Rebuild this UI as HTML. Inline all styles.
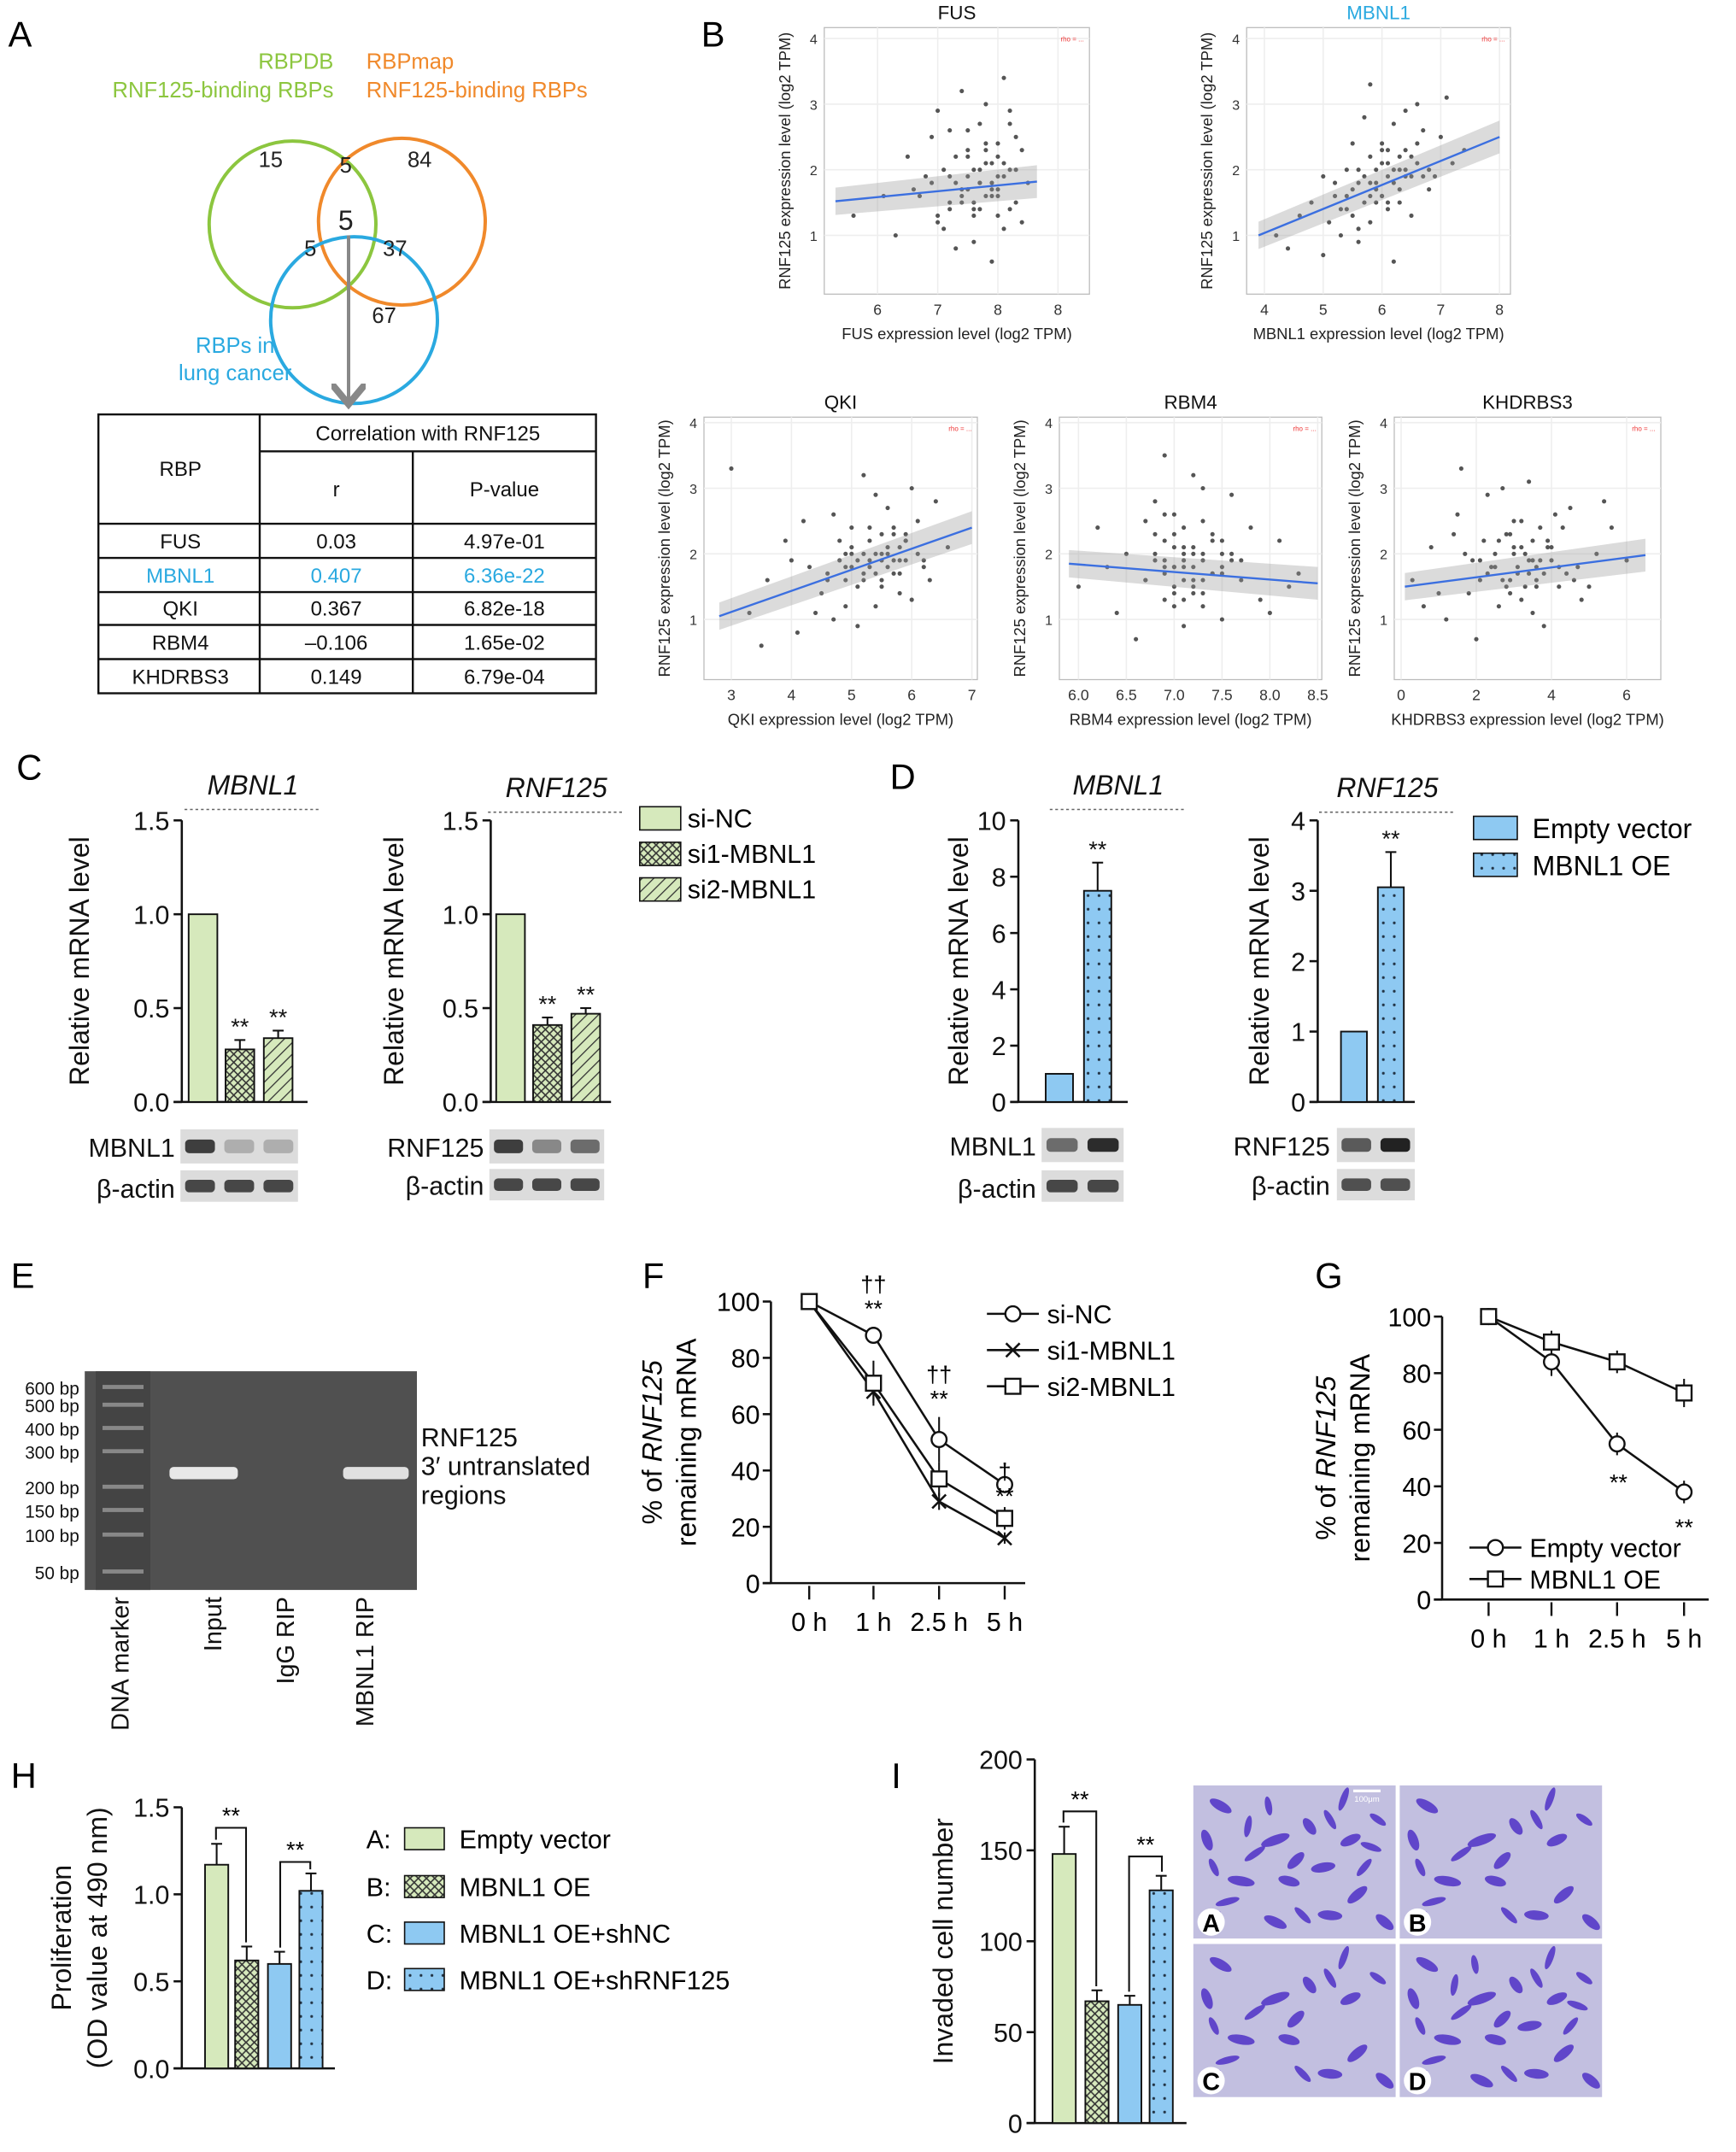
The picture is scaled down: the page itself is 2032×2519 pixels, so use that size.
<!DOCTYPE html>
<html><head><meta charset="utf-8">
<style>
html,body{margin:0;padding:0;background:#fff;}
svg{display:block;font-family:"Liberation Sans",Arial,sans-serif;}
</style></head>
<body>
<svg id="fig" width="2032" height="2519" viewBox="0 0 1270 1574" xmlns="http://www.w3.org/2000/svg">
<defs>
<pattern id="hatch" patternUnits="userSpaceOnUse" width="6" height="6" patternTransform="rotate(45)">
<rect width="6" height="6" fill="#d6e9bc"/><line x1="0" y1="0" x2="0" y2="6" stroke="#333" stroke-width="1.6"/></pattern>
<pattern id="cross" patternUnits="userSpaceOnUse" width="6" height="6">
<rect width="6" height="6" fill="#d6e9bc"/><path d="M0 0L6 6M6 0L0 6" stroke="#333" stroke-width="1"/></pattern>
<pattern id="dots" patternUnits="userSpaceOnUse" width="8" height="10">
<rect width="8" height="10" fill="#8ec9f2"/><circle cx="4" cy="5" r="1" fill="#234"/></pattern>
<marker id="arr" markerWidth="10" markerHeight="10" refX="5" refY="5" orient="auto"><path d="M0 0L6 5L0 10" fill="none" stroke="#888" stroke-width="2"/></marker>
</defs>

<g font-size="26" fill="#000">
<text x="6" y="34">A</text><text x="513" y="34">B</text><text x="12" y="570">C</text>
<text x="651" y="577">D</text><text x="8" y="942">E</text><text x="470" y="942">F</text>
<text x="962" y="942">G</text><text x="8" y="1308">H</text><text x="652" y="1308">I</text>
</g>

<g>
<circle cx="214" cy="164" r="61" fill="none" stroke="#8cc63f" stroke-width="2.5"/>
<circle cx="294" cy="162" r="61" fill="none" stroke="#f0892b" stroke-width="2.5"/>
<circle cx="259" cy="234" r="61" fill="none" stroke="#2aa9e0" stroke-width="2.5"/>
<g font-size="16" text-anchor="middle" fill="#222">
<text x="198" y="122">15</text><text x="253" y="126">5</text><text x="307" y="122">84</text>
<text x="253" y="168" font-size="20">5</text><text x="227" y="187">5</text><text x="289" y="187">37</text><text x="281" y="236">67</text>
</g>
<g font-size="16" fill="#8cc63f" text-anchor="end"><text x="244" y="50">RBPDB</text><text x="244" y="71">RNF125-binding RBPs</text></g>
<g font-size="16" fill="#f0892b"><text x="268" y="50">RBPmap</text><text x="268" y="71">RNF125-binding RBPs</text></g>
<g font-size="16" fill="#2aa9e0" text-anchor="middle"><text x="172" y="258">RBPs in</text><text x="172" y="278">lung cancer</text></g>
<line x1="255" y1="172" x2="255" y2="293" stroke="#888" stroke-width="2.5" marker-end="url(#arr)"/>
</g>

<g font-size="15" text-anchor="middle" fill="#111">
<rect x="72" y="303" width="364" height="204" fill="none" stroke="#111" stroke-width="1.5"/>
<line x1="190" y1="303" x2="190" y2="507" stroke="#111" stroke-width="1.5"/>
<line x1="302" y1="330" x2="302" y2="507" stroke="#111" stroke-width="1.5"/>
<line x1="190" y1="330" x2="436" y2="330" stroke="#111" stroke-width="1.5"/>
<line x1="72" y1="383" x2="436" y2="383" stroke="#111" stroke-width="1.5"/>
<line x1="72" y1="408" x2="436" y2="408" stroke="#111" stroke-width="1.5"/>
<line x1="72" y1="433" x2="436" y2="433" stroke="#111" stroke-width="1.5"/>
<line x1="72" y1="457" x2="436" y2="457" stroke="#111" stroke-width="1.5"/>
<line x1="72" y1="482" x2="436" y2="482" stroke="#111" stroke-width="1.5"/>
<text x="313" y="322">Correlation with RNF125</text>
<text x="132" y="348">RBP</text><text x="246" y="363">r</text><text x="369" y="363">P-value</text>
<text x="132" y="401">FUS</text><text x="246" y="401">0.03</text><text x="369" y="401">4.97e-01</text>
<g fill="#2aa9e0"><text x="132" y="426">MBNL1</text><text x="246" y="426">0.407</text><text x="369" y="426">6.36e-22</text></g>
<text x="132" y="450">QKI</text><text x="246" y="450">0.367</text><text x="369" y="450">6.82e-18</text>
<text x="132" y="475">RBM4</text><text x="246" y="475">–0.106</text><text x="369" y="475">1.65e-02</text>
<text x="132" y="500">KHDRBS3</text><text x="246" y="500">0.149</text><text x="369" y="500">6.79e-04</text>
</g>

<g id="dyn"></g>

<g>
<rect x="62" y="1003" width="243" height="160" fill="#505050"/>
<rect x="70" y="1003" width="40" height="160" fill="#444"/>
<g fill="#888"><rect x="75" y="1013" width="30" height="3"/><rect x="75" y="1026" width="30" height="3"/><rect x="75" y="1043" width="30" height="3"/><rect x="75" y="1060" width="30" height="3"/><rect x="75" y="1086" width="30" height="3"/><rect x="75" y="1103" width="30" height="3"/><rect x="75" y="1121" width="30" height="3"/><rect x="75" y="1148" width="30" height="3"/></g>
<rect x="124" y="1073" width="50" height="9" rx="3" fill="#e8e8e8"/>
<rect x="251" y="1073" width="48" height="9" rx="3" fill="#e0e0e0"/>
<g font-size="13" text-anchor="end" fill="#111">
<text x="58" y="1020">600 bp</text><text x="58" y="1033">500 bp</text><text x="58" y="1050">400 bp</text><text x="58" y="1067">300 bp</text><text x="58" y="1093">200 bp</text><text x="58" y="1110">150 bp</text><text x="58" y="1128">100 bp</text><text x="58" y="1155">50 bp</text>
</g>
<g font-size="18" text-anchor="end" fill="#111">
<text transform="translate(94,1168) rotate(-90)">DNA marker</text>
<text transform="translate(162,1168) rotate(-90)">Input</text>
<text transform="translate(215,1168) rotate(-90)">IgG RIP</text>
<text transform="translate(273,1168) rotate(-90)">MBNL1 RIP</text>
</g>
<g font-size="19" fill="#111"><text x="308" y="1058">RNF125</text><text x="308" y="1079">3′ untranslated</text><text x="308" y="1100">regions</text></g>
</g>

<g id="micro"></g>
</svg>

<script>
// ===== Data =====
const fusX=[6.1,6.5,7.0,7.2,7.5,7.8,8.0,8.2,7.6,7.9,8.1,8.4,6.8,7.3,7.7,8.3,5.6,6.3,7.1,7.4,7.8,8.0,8.2,8.5,6.9,7.5,7.9,8.1,7.2,7.7,8.3,6.6,7.0,7.6,8.0,8.4,7.4,7.9,8.2,7.1,
 7.3,7.6,7.8,8.0,7.5,7.7,7.9,8.1,7.4,7.6,7.8,8.0,7.2,7.5,7.7,8.2,6.9,7.3,7.6,7.9,8.1,7.0,7.4,7.8,8.3,6.7,7.2,7.7,8.0,7.5];
const fusY=[1.6,2.2,1.2,2.6,1.9,2.4,1.7,2.9,1.4,2.1,1.1,2.3,1.9,0.8,2.7,1.5,1.3,1.0,2.0,1.6,3.0,1.3,2.0,1.8,2.5,2.3,0.6,3.4,1.5,1.8,2.5,1.7,2.9,0.9,2.2,1.2,3.2,1.6,2.7,1.1,
 1.8,2.0,1.6,1.9,2.2,1.4,1.7,2.1,1.5,1.3,2.3,1.6,1.9,1.7,2.0,1.4,1.8,2.2,1.5,1.8,1.9,1.3,1.7,2.1,2.0,1.6,1.4,1.8,2.4,2.6];
const mbnX=[4.2,4.6,5.0,5.2,5.4,5.6,5.8,6.0,6.1,6.2,6.4,6.5,6.6,6.8,7.0,7.2,5.1,5.5,5.9,6.3,6.7,4.8,5.3,5.7,6.0,6.4,6.9,7.4,5.6,6.1,6.5,5.0,5.8,6.2,6.6,7.1,4.4,5.4,6.3,6.8,
 5.5,5.7,5.9,6.1,6.3,5.6,5.8,6.0,6.2,6.4,5.3,5.9,6.1,6.5,5.7,6.0,6.3,5.4,5.8,6.2,6.6,5.9,6.0,5.5,6.4,6.1,5.6,5.8,6.7,5.2];
const mbnY=[1.0,1.3,0.7,1.6,2.0,1.1,1.8,2.3,1.4,2.7,1.9,2.2,3.0,1.7,2.5,2.1,1.2,2.4,1.5,2.0,2.6,1.5,1.0,2.8,1.6,2.9,1.9,2.3,0.9,2.1,1.3,1.9,3.3,0.6,2.4,3.1,0.8,1.4,1.7,2.0,
 1.7,1.5,2.0,1.9,2.2,1.8,1.6,2.1,1.8,2.0,1.4,1.7,2.3,1.9,1.9,1.6,1.5,1.6,2.2,2.0,2.1,1.8,2.4,1.3,2.3,1.5,2.0,1.2,1.9,1.8];
const qkiX=[3.0,3.3,3.6,3.9,4.1,4.3,4.5,4.7,4.9,5.0,5.2,5.4,5.5,5.7,5.9,6.1,6.3,6.6,4.4,4.8,5.1,5.3,5.6,5.8,6.0,6.2,4.0,4.6,5.0,5.4,5.9,6.4,3.5,4.2,4.9,5.5,6.0,5.2,4.7,5.7,
 5.0,5.2,5.4,5.6,5.8,5.1,5.3,5.5,5.7,4.9,5.3,5.6,5.9,4.8,5.2,5.5,5.8,5.0,5.4,5.7,6.1,4.6,5.1,5.6,5.9,5.3,5.5,4.9,5.8,6.2];
const qkiY=[3.3,1.1,1.6,2.2,0.8,1.8,1.4,2.6,1.2,2.0,1.7,2.9,1.5,2.3,1.9,2.5,1.6,2.1,1.1,2.2,0.9,1.9,2.7,1.4,3.0,1.8,1.9,1.6,2.4,1.2,2.2,2.8,0.6,2.5,1.8,2.0,1.3,3.2,1.0,1.7,
 1.8,2.0,1.7,2.1,1.9,1.5,2.2,1.9,2.4,1.6,1.8,2.0,2.2,1.9,1.6,2.3,1.7,2.1,2.0,1.9,2.0,1.7,1.9,1.8,2.3,2.4,1.6,2.0,2.1,1.9];
const rbmX=[6.0,6.2,6.4,6.5,6.7,6.8,6.9,7.0,7.1,7.2,7.3,7.4,7.5,7.6,7.7,7.9,8.1,8.3,6.6,6.9,7.0,7.2,7.3,7.5,7.8,8.0,6.3,6.8,7.1,7.4,7.6,7.0,7.2,6.9,7.3,7.7,6.7,7.1,7.5,8.2,
 7.0,7.1,7.2,6.9,7.3,7.0,7.1,7.4,6.8,7.2,7.0,7.3,6.9,7.1,7.5,7.2,6.8,7.0,7.4,7.1,7.3,6.9,7.2,7.6,7.0,6.7,7.1,7.3,7.5,6.9];
const rbmY=[1.5,2.4,1.1,2.0,1.6,2.8,1.3,2.1,1.8,3.2,1.4,2.3,1.0,2.0,1.6,1.3,2.2,1.7,0.7,1.9,2.6,1.5,3.0,1.8,2.4,1.1,1.8,2.3,0.9,1.7,2.9,1.4,2.0,3.5,1.2,1.9,2.5,1.6,2.2,1.5,
 1.8,2.0,1.6,2.2,1.9,1.5,2.4,1.7,1.9,2.1,2.3,1.6,1.7,1.9,2.0,1.4,2.0,1.8,2.2,1.3,2.5,2.6,1.8,1.9,1.2,1.6,2.1,2.0,1.7,1.8];
const khdX=[0.3,0.8,1.2,1.5,1.8,2.1,2.3,2.6,2.9,3.1,3.4,3.6,3.9,4.2,4.5,4.8,5.2,5.6,6.0,1.0,1.6,2.0,2.5,3.0,3.5,4.0,4.6,5.4,2.2,2.8,3.3,3.8,4.3,1.4,2.7,3.2,3.7,4.1,0.6,5.0,
 2.4,2.9,3.2,3.5,3.8,2.6,3.0,3.3,3.6,2.1,2.8,3.4,3.9,4.4,2.5,3.1,3.7,4.2,1.9,2.7,3.5,4.0,2.3,3.0,3.6,1.7,4.7,3.2,2.9,3.4];
const khdY=[1.6,2.1,1.0,2.6,1.4,1.9,2.9,1.2,2.3,1.7,3.1,1.5,2.2,1.8,2.7,1.3,2.0,2.4,1.9,1.4,3.3,0.7,1.8,2.5,1.1,2.1,1.6,2.8,2.2,1.5,2.0,0.9,2.4,2.3,3.0,1.3,1.9,2.6,1.2,1.5,
 1.8,1.6,2.1,1.9,1.7,2.2,2.0,1.5,1.8,1.6,2.3,1.9,2.1,1.7,2.0,1.8,2.4,1.5,1.9,1.6,2.2,1.9,1.7,2.1,1.6,2.0,1.8,2.5,1.4,1.7];
const fusFit=[5.3,1.52,8.65,1.82], mbnFit=[3.9,1.0,8.0,2.5], qkiFit=[2.8,1.05,7.0,2.4], rbmFit=[5.9,1.85,8.5,1.55], khdFit=[0.1,1.5,6.5,1.98];

const cGroups=['si-NC','si1-MBNL1','si2-MBNL1'];
const cMbnl=[1.0,0.28,0.34], cMbnlErr=[0,0.05,0.04];
const cRnf=[1.0,0.41,0.47], cRnfErr=[0,0.04,0.03];
const cTicks=[0.0,0.5,1.0,1.5];
const dGroups=['Empty vector','MBNL1 OE'];
const dMbnl=[1.0,7.5], dMbnlErr=[0,1.0];
const dRnf=[1.0,3.05], dRnfErr=[0,0.5];
const dTicks1=[0,2,4,6,8,10], dTicks2=[0,1,2,3,4];
const timeLabels=['0 h','1 h','2.5 h','5 h'];
const fNC=[100,88,51,35], fSi1=[100,68,29,16], fSi2=[100,71,37,23];
const fNCe=[0,3,8,3], fSi1e=[0,4,3,2], fSi2e=[0,8,6,4];
const gEV=[100,84,55,38], gOE=[100,91,84,73];
const gEVe=[0,5,4,4], gOEe=[0,4,4,5];
const pctTicks=[0,20,40,60,80,100];
const hGroups=['A','B','C','D'];
const hVals=[1.17,0.62,0.60,1.02], hErr=[0.12,0.08,0.07,0.1];
const hTicks=[0.0,0.5,1.0,1.5];
const iVals=[148,67,65,128], iErr=[15,6,5,8];
const iTicks=[0,50,100,150,200];

const NS='http://www.w3.org/2000/svg';
const root=document.getElementById('dyn');
function el(tag,attrs,parent,txt){const e=document.createElementNS(NS,tag);for(const k in attrs)e.setAttribute(k,attrs[k]);if(txt!==undefined)e.textContent=txt;(parent||root).appendChild(e);return e;}
function lin(d0,d1,r0,r1){return v=>r0+(v-d0)*(r1-r0)/(d1-d0);}

function scatter(o){
  const g=el('g',{});
  
  
  el('rect',{x:o.x0,y:o.y0,width:o.x1-o.x0,height:o.y1-o.y0,fill:'#fff',stroke:'#bbb','stroke-width':0.8},g);
  const sx=lin(o.xd[0],o.xd[1],o.xr[0],o.xr[1]), sy=lin(1,2,o.yr[0],o.yr[1]);
  [1,2,3,4].forEach(t=>{const y=sy(t);el('line',{x1:o.x0,x2:o.x1,y1:y,y2:y,stroke:'#eee','stroke-width':1},g);
    el('text',{x:o.x0-5,y:y+4,'font-size':10,'text-anchor':'end',fill:'#333'},g,t);});
  o.xt.forEach(t=>{const x=sx(t[0]);el('line',{x1:x,x2:x,y1:o.y0,y2:o.y1,stroke:'#eee'},g);
    el('text',{x:x,y:o.y1+15,'font-size':11,'text-anchor':'middle',fill:'#333'},g,t[1]);});
  const f=o.fit;
  for(let i=0;i<o.X.length;i++){
    const c=el('circle',{cx:sx(o.X[i]),cy:sy(o.Y[i]),r:1.6,fill:'#555'},g);
    
    
  }
  const x1=sx(f[0]),y1=sy(f[1]),x2=sx(f[2]),y2=sy(f[3]);
  el('polygon',{points:`${x1},${y1-10} ${x2},${y2-12} ${x2},${y2+12} ${x1},${y1+10}`,fill:'#999','fill-opacity':0.35},g);
  const ln=el('line',{x1:x1,y1:y1,x2:x2,y2:y2,stroke:'#3b6fe0','stroke-width':1.5},g);
  
  
  el('text',{x:(o.x0+o.x1)/2,y:o.y0-6,'font-size':14,'text-anchor':'middle',fill:o.tc||'#111'},g,o.title);
  el('text',{x:(o.x0+o.x1)/2,y:o.y1+33,'font-size':11.5,'text-anchor':'middle',fill:'#222'},g,o.xlab);
  el('text',{transform:`translate(${o.x0-25},${(o.y0+o.y1)/2}) rotate(-90)`,'font-size':11.5,'text-anchor':'middle',fill:'#222'},g,'RNF125 expression level (log2 TPM)');
  el('text',{x:o.x1-4,y:o.y0+10,'font-size':5,'text-anchor':'end',fill:'#e33'},g,'rho = ...');
}
scatter({name:'scatter-fus',x0:603,x1:797,y0:20,y1:215,xd:[6,7],xr:[642,686],yr:[172,124],xt:[[6,'6'],[7,'7'],[8,'8'],[9,'8']],X:fusX,Y:fusY,fit:fusFit,title:'FUS',xlab:'FUS expression level (log2 TPM)'});
scatter({name:'scatter-mbnl1',x0:912,x1:1105,y0:20,y1:215,xd:[4,5],xr:[925,968],yr:[172,124],xt:[[4,'4'],[5,'5'],[6,'6'],[7,'7'],[8,'8']],X:mbnX,Y:mbnY,fit:mbnFit,title:'MBNL1',tc:'#2aa9e0',xlab:'MBNL1 expression level (log2 TPM)'});
scatter({name:'scatter-qki',x0:515,x1:715,y0:305,y1:497,xd:[3,4],xr:[535,579],yr:[453,405],xt:[[3,'3'],[4,'4'],[5,'5'],[6,'6'],[7,'7']],X:qkiX,Y:qkiY,fit:qkiFit,title:'QKI',xlab:'QKI expression level (log2 TPM)'});
scatter({name:'scatter-rbm4',x0:775,x1:967,y0:305,y1:497,xd:[6,7],xr:[789,859],yr:[453,405],xt:[[6,'6.0'],[6.5,'6.5'],[7,'7.0'],[7.5,'7.5'],[8,'8.0'],[8.5,'8.5']],X:rbmX,Y:rbmY,fit:rbmFit,title:'RBM4',xlab:'RBM4 expression level (log2 TPM)'});
scatter({name:'scatter-khdrbs3',x0:1020,x1:1215,y0:305,y1:497,xd:[0,2],xr:[1025,1080],yr:[453,405],xt:[[0,'0'],[2,'2'],[4,'4'],[6,'6']],X:khdX,Y:khdY,fit:khdFit,title:'KHDRBS3',xlab:'KHDRBS3 expression level (log2 TPM)'});

function barChart(o){
  const g=el('g',{});
  
  
  const sy=lin(o.ticks[0],o.ticks[o.ticks.length-1],o.yb,o.yt);
  el('line',{x1:o.ax,x2:o.ax,y1:o.yt,y2:o.yb,stroke:'#111','stroke-width':1.6},g);
  el('line',{x1:o.ax-6,x2:o.xe,y1:o.yb,y2:o.yb,stroke:'#111','stroke-width':1.6},g);
  o.ticks.forEach(t=>{const y=sy(t);el('line',{x1:o.ax-6,x2:o.ax,y1:y,y2:y,stroke:'#111','stroke-width':1.6},g);
    el('text',{x:o.ax-9,y:y+7,'font-size':o.fs||19,'text-anchor':'end',fill:'#111'},g,o.fmt?o.fmt(t):t);});
  o.vals.forEach((v,i)=>{
    const x=o.bx[i],y=sy(v),e=o.err[i];
    if(e>0){el('line',{x1:x+o.bw/2,x2:x+o.bw/2,y1:y,y2:sy(v+e),stroke:'#111','stroke-width':1.3},g);
      el('line',{x1:x+o.bw/2-4,x2:x+o.bw/2+4,y1:sy(v+e),y2:sy(v+e),stroke:'#111','stroke-width':1.3},g);}
    const r=el('rect',{x:x,y:y,width:o.bw,height:o.yb-y,fill:o.fills[i],stroke:'#111','stroke-width':1.2},g);
    
    
    if(o.stars&&o.stars[i])el('text',{x:x+o.bw/2,y:sy(v+e)-4,'font-size':17,'text-anchor':'middle',fill:'#111'},g,o.stars[i]);
  });
  if(o.ylab)o.ylab.forEach((l,k)=>el('text',{transform:`translate(${o.ylx+k*26},${(o.yt+o.yb)/2}) rotate(-90)`,'font-size':20,'text-anchor':'middle',fill:'#111'},g,l));
  if(o.title){el('text',{x:o.tx,y:o.ty,'font-size':20,'font-style':'italic','text-anchor':'middle',fill:'#111'},g,o.title);
    el('line',{x1:o.tx-50,x2:o.tx+50,y1:o.ty+11,y2:o.ty+11,stroke:'#666','stroke-width':1,'stroke-dasharray':'2,2'},g);}
  return {g,sy};
}
const gc='#d6e9bc';
barChart({name:'chart-c-mbnl1',ax:133,xe:225,yt:600,yb:806,ticks:cTicks,fmt:t=>t.toFixed(1),vals:cMbnl,err:cMbnlErr,bx:[138,165,193],bw:21,fills:[gc,'url(#cross)','url(#hatch)'],labels:cGroups,stars:['','**','**'],ylab:['Relative mRNA level'],ylx:65,title:'MBNL1',tx:185,ty:581});
barChart({name:'chart-c-rnf125',ax:359,xe:447,yt:600,yb:806,ticks:cTicks,fmt:t=>t.toFixed(1),vals:cRnf,err:cRnfErr,bx:[363,390,418],bw:21,fills:[gc,'url(#cross)','url(#hatch)'],labels:cGroups,stars:['','**','**'],ylab:['Relative mRNA level'],ylx:295,title:'RNF125',tx:407,ty:583});
barChart({name:'chart-d-mbnl1',ax:745,xe:825,yt:600,yb:806,ticks:dTicks1,vals:dMbnl,err:dMbnlErr,bx:[765,793],bw:20,fills:['#8ec9f2','url(#dots)'],labels:dGroups,stars:['','**'],ylab:['Relative mRNA level'],ylx:708,title:'MBNL1',tx:818,ty:581});
barChart({name:'chart-d-rnf125',ax:964,xe:1035,yt:600,yb:806,ticks:dTicks2,vals:dRnf,err:dRnfErr,bx:[981,1008],bw:19,fills:['#8ec9f2','url(#dots)'],labels:dGroups,stars:['','**'],ylab:['Relative mRNA level'],ylx:928,title:'RNF125',tx:1015,ty:583});
const H=barChart({name:'chart-h-proliferation',ax:133,xe:245,yt:1322,yb:1513,ticks:hTicks,fmt:t=>t.toFixed(1),vals:hVals,err:hErr,bx:[150,172,196,219],bw:17,fills:[gc,'url(#cross)','#8ec9f2','url(#dots)'],labels:hGroups,ylab:['Proliferation','(OD value at 490 nm)'],ylx:52});
const I=barChart({name:'chart-i-invasion',ax:757,xe:868,yt:1287,yb:1553,ticks:iTicks,vals:iVals,err:iErr,bx:[770,794,818,841],bw:17,fills:[gc,'url(#cross)','#8ec9f2','url(#dots)'],labels:hGroups,ylab:['Invaded cell number'],ylx:697});
function bracket(g,x1,x2,y,yl,yr){el('path',{d:`M${x1} ${yl}V${y}H${x2}V${yr}`,fill:'none',stroke:'#111','stroke-width':1.3},g);el('text',{x:(x1+x2)/2,y:y-3,'font-size':17,'text-anchor':'middle'},g,'**');}
bracket(H.g,158,180,1337,H.sy(hVals[0]+hErr[0])-3,H.sy(hVals[1]+hErr[1])-3);
bracket(H.g,205,227,1362,H.sy(hVals[2]+hErr[2])-3,H.sy(hVals[3]+hErr[3])-3);
bracket(I.g,778,802,1325,I.sy(iVals[0]+iErr[0])-3,I.sy(iVals[1]+iErr[1])-3);
bracket(I.g,826,850,1358,I.sy(iVals[2]+iErr[2])-3,I.sy(iVals[3]+iErr[3])-3);

function blot(x,y,w,h,ints,name){const g=el('g',{});
  el('rect',{x:x,y:y,width:w,height:h,fill:'#dcdcdc'},g);
  const bw=w/ints.length;ints.forEach((a,i)=>el('rect',{x:x+bw*(i+.12),y:y+h*0.3,width:bw*0.76,height:h*0.4,rx:3,fill:'#222','fill-opacity':a},g));}
blot(132,826,86,25,[0.85,0.25,0.25],'blot-c-mbnl1');blot(132,856,86,23,[0.8,0.8,0.8],'blot-c-actin1');
blot(358,826,84,25,[0.85,0.45,0.6],'blot-c-rnf125');blot(358,855,84,23,[0.8,0.8,0.8],'blot-c-actin2');
blot(762,825,60,25,[0.6,0.95],'blot-d-mbnl1');blot(762,856,60,23,[0.8,0.8],'blot-d-actin1');
blot(978,825,57,25,[0.7,1],'blot-d-rnf125');blot(978,855,57,23,[0.75,0.75],'blot-d-actin2');
[['MBNL1',128,846],['β-actin',128,876],['RNF125',354,846],['β-actin',354,874],['MBNL1',758,845],['β-actin',758,876],['RNF125',973,845],['β-actin',973,874]].forEach(b=>el('text',{x:b[1],y:b[2],'font-size':19,'text-anchor':'end',fill:'#111'},root,b[0]));

[['si-NC',gc,590],['si1-MBNL1','url(#cross)',616],['si2-MBNL1','url(#hatch)',642]].forEach(l=>{el('rect',{x:468,y:l[2],width:30,height:17,fill:l[1],stroke:'#111'});el('text',{x:503,y:l[2]+15,'font-size':19},root,l[0]);});
[['Empty vector','#8ec9f2',597],['MBNL1 OE','url(#dots)',624]].forEach(l=>{el('rect',{x:1078,y:l[2],width:32,height:17,fill:l[1],stroke:'#111'});el('text',{x:1121,y:l[2]+16,'font-size':20},root,l[0]);});
[['A:','Empty vector',gc,1345],['B:','MBNL1 OE','url(#cross)',1380],['C:','MBNL1 OE+shNC','#8ec9f2',1414],['D:','MBNL1 OE+shRNF125','url(#dots)',1448]].forEach(l=>{el('text',{x:268,y:l[3]+7,'font-size':19},root,l[0]);el('rect',{x:296,y:l[3]-8,width:29,height:16,fill:l[2],stroke:'#111'});el('text',{x:336,y:l[3]+7,'font-size':19},root,l[1]);});

function marker(g,t,x,y){
  if(t==='o')el('circle',{cx:x,cy:y,r:5.5,fill:'#fff',stroke:'#111','stroke-width':1.5},g);
  else if(t==='s')el('rect',{x:x-5.5,y:y-5.5,width:11,height:11,fill:'#fff',stroke:'#111','stroke-width':1.5},g);
  else el('path',{d:`M${x-5} ${y-5}L${x+5} ${y+5}M${x+5} ${y-5}L${x-5} ${y+5}`,stroke:'#111','stroke-width':1.6},g);
}
function lineChart(o){
  const g=el('g',{});
  const sy=lin(0,100,o.yb,o.yt);
  el('line',{x1:o.ax,x2:o.ax,y1:o.yt,y2:o.yb,stroke:'#111','stroke-width':1.6},g);
  el('line',{x1:o.ax-6,x2:o.xe,y1:o.yb,y2:o.yb,stroke:'#111','stroke-width':1.6},g);
  pctTicks.forEach(t=>{const y=sy(t);el('line',{x1:o.ax-6,x2:o.ax,y1:y,y2:y,stroke:'#111','stroke-width':1.6},g);el('text',{x:o.ax-8,y:y+7,'font-size':19,'text-anchor':'end'},g,t);});
  timeLabels.forEach((t,i)=>{const x=o.px[i];el('line',{x1:x,x2:x,y1:o.yb+2,y2:o.yb+12,stroke:'#111','stroke-width':1.5},g);el('text',{x:x,y:o.yb+35,'font-size':19,'text-anchor':'middle'},g,t);});
  o.series.forEach(s=>{
    const pts=s.v.map((v,i)=>[o.px[i],sy(v)]);
    const p=el('polyline',{points:pts.map(p=>p.join(',')).join(' '),fill:'none',stroke:'#111','stroke-width':1.6},g);
    
    s.v.forEach((v,i)=>{if(s.e[i]){el('line',{x1:o.px[i],x2:o.px[i],y1:sy(v+s.e[i]),y2:sy(v-s.e[i]),stroke:'#111','stroke-width':1.3},g);}});
    pts.forEach(p=>marker(g,s.m,p[0],p[1]));
  });
  el('text',{transform:`translate(${o.ylx},${(o.yt+o.yb)/2}) rotate(-90)`,'font-size':20,'text-anchor':'middle'},g).innerHTML='% of <tspan font-style="italic">RNF125</tspan>';
  el('text',{transform:`translate(${o.ylx+25},${(o.yt+o.yb)/2}) rotate(-90)`,'font-size':20,'text-anchor':'middle'},g,'remaining mRNA');
  o.legend.forEach((l,k)=>{const y=o.ly+k*o.ld;el('line',{x1:o.lx,x2:o.lx+38,y1:y,y2:y,stroke:'#111','stroke-width':1.6},g);marker(g,l[1],o.lx+19,y);el('text',{x:o.lx+44,y:y+7,'font-size':19},g,l[0]);});
  return {g,sy};
}
const F=lineChart({name:'chart-f-decay',ax:564,xe:750,yt:952,yb:1158,px:[592,639,687,735],ylx:484,
  series:[{n:'si-nc',v:fNC,e:fNCe,m:'o'},{n:'si1-mbnl1',v:fSi1,e:fSi1e,m:'x'},{n:'si2-mbnl1',v:fSi2,e:fSi2e,m:'s'}],
  legend:[['si-NC','o'],['si1-MBNL1','x'],['si2-MBNL1','s']],lx:722,ly:961,ld:26.5});
[['††',639,945],['**',639,963],['††',687,1011],['**',687,1029],['†',735,1082],['**',735,1100]].forEach(a=>el('text',{x:a[1],y:a[2],'font-size':17,'text-anchor':'middle'},F.g,a[0]));
const G=lineChart({name:'chart-g-decay',ax:1055,xe:1250,yt:963,yb:1170,px:[1089,1135,1183,1232],ylx:977,
  series:[{n:'empty-vector',v:gEV,e:gEVe,m:'o'},{n:'mbnl1-oe',v:gOE,e:gOEe,m:'s'}],
  legend:[['Empty vector','o'],['MBNL1 OE','s']],lx:1075,ly:1132,ld:23});
[['**',1184,1090],['**',1232,1123]].forEach(a=>el('text',{x:a[1],y:a[2],'font-size':17,'text-anchor':'middle'},G.g,a[0]));

const mg=document.getElementById('micro');
const panels=[['A',873,1306,1.0],['B',1024,1306,0.7],['C',873,1422,0.7],['D',1024,1422,0.95]];
const blobs=[[20,15,6,3,30],[60,40,8,3,-20],[100,25,5,2,60],[35,70,7,3,10],[120,80,6,3,-40],[80,95,5,2,45],[15,100,6,3,-60],[130,45,5,2,20],[55,15,4,2,80],[95,60,6,3,-10],
 [10,40,5,3,70],[45,50,6,2,-35],[70,70,5,3,15],[110,10,6,2,-70],[140,100,5,3,40],[25,85,6,2,-15],[85,30,4,3,55],[125,60,5,2,-50],[60,100,6,3,25],[40,30,5,2,-80],
 [100,95,6,3,5],[135,25,4,2,35],[75,55,5,3,-45],[15,60,4,2,65],[115,40,5,3,-25]];
panels.forEach(p=>{
  el('rect',{x:p[1],y:p[2],width:148,height:112,fill:'#c2bfe0'},mg);
  blobs.forEach((b,k)=>{if(k%10>=Math.round(10*p[3]))return;el('ellipse',{cx:p[1]+b[0],cy:p[2]+b[1],rx:b[2]+3,ry:b[3]+0.5,transform:`rotate(${b[4]} ${p[1]+b[0]} ${p[2]+b[1]})`,fill:'#5538c8','fill-opacity':0.9},mg);});
  el('circle',{cx:p[1]+13,cy:p[2]+100,r:10,fill:'#fff'},mg);
  el('text',{x:p[1]+13,y:p[2]+107,'font-size':18,'font-weight':'bold','text-anchor':'middle'},mg,p[0]);
});
el('line',{x1:990,x2:1010,y1:1310,y2:1310,stroke:'#fff','stroke-width':2},mg);
el('text',{x:1000,y:1318,'font-size':6,fill:'#fff','text-anchor':'middle'},mg,'100μm');
</script>
</body></html>
